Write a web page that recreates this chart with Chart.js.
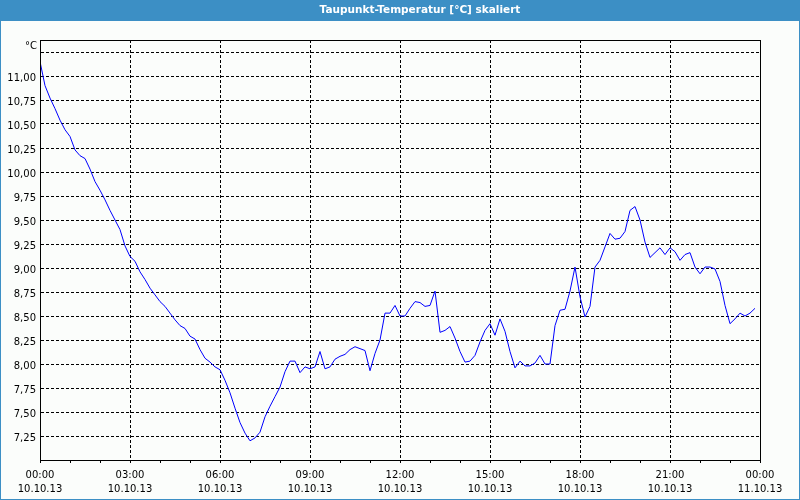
<!DOCTYPE html>
<html>
<head>
<meta charset="utf-8">
<script src="https://cdn.jsdelivr.net/npm/chart.js@4"></script>
<style>
  html, body { margin: 0; padding: 0; background: #ffffff; }
  #wrap { width: 800px; height: 500px; }
</style>
</head>
<body>
<div id="wrap"><canvas id="c" width="800" height="500"></canvas></div>
<script>
// ---- data (minutes since 10.10.13 00:00, dew point °C) ----
const minutes = [
  0, 10, 20, 30, 40, 50, 60, 70, 80, 90, 100, 110,
  120, 130, 140, 150, 160, 170, 180, 190, 200, 210, 220, 230,
  240, 250, 260, 270, 280, 290, 300, 310, 320, 330, 340, 350,
  360, 370, 380, 390, 400, 410, 420, 430, 440, 450, 460, 470,
  480, 490, 500, 510, 520, 530, 540, 550, 560, 570, 580, 590,
  600, 610, 620, 630, 640, 650, 660, 670, 680, 690, 700, 710,
  720, 730, 740, 750, 760, 770, 780, 790, 800, 810, 820, 830,
  840, 850, 860, 870, 880, 890, 900, 910, 920, 930, 940, 950,
  960, 970, 980, 990, 1000, 1010, 1020, 1030, 1040, 1050, 1060, 1070,
  1080, 1090, 1100, 1110, 1120, 1130, 1140, 1150, 1160, 1170, 1180, 1190,
  1200, 1210, 1220, 1230, 1240, 1250, 1260, 1270, 1280, 1290, 1300, 1310,
  1320, 1330, 1340, 1350, 1360, 1370, 1380, 1390, 1400, 1410, 1420, 1430
];
const dewPoint = [
  11.15, 10.90, 10.77, 10.66, 10.54, 10.44, 10.37, 10.23, 10.17, 10.14, 10.03, 9.90,
  9.81, 9.71, 9.60, 9.50, 9.40, 9.23, 9.12, 9.07, 8.96, 8.88, 8.79, 8.72,
  8.65, 8.60, 8.53, 8.46, 8.40, 8.37, 8.29, 8.26, 8.15, 8.06, 8.02, 7.97,
  7.94, 7.83, 7.70, 7.54, 7.39, 7.28, 7.20, 7.23, 7.29, 7.45, 7.56, 7.66,
  7.76, 7.92, 8.03, 8.03, 7.91, 7.97, 7.95, 7.97, 8.13, 7.95, 7.97, 8.05,
  8.08, 8.10, 8.15, 8.18, 8.16, 8.14, 7.93, 8.11, 8.25, 8.53, 8.53, 8.61,
  8.50, 8.50, 8.58, 8.65, 8.64, 8.60, 8.61, 8.76, 8.33, 8.35, 8.39, 8.27,
  8.13, 8.02, 8.03, 8.09, 8.23, 8.35, 8.42, 8.30, 8.47, 8.34, 8.13, 7.96,
  8.03, 7.98, 7.98, 8.01, 8.09, 8.00, 8.00, 8.40, 8.56, 8.57, 8.76, 9.01,
  8.70, 8.49, 8.60, 9.01, 9.08, 9.22, 9.36, 9.30, 9.31, 9.38, 9.60, 9.64,
  9.50, 9.27, 9.11, 9.16, 9.21, 9.14, 9.21, 9.17, 9.08, 9.14, 9.16, 9.01,
  8.94, 9.01, 9.01, 8.99, 8.86, 8.61, 8.42, 8.47, 8.53, 8.50, 8.53, 8.58
];
// x tick labels every 3 hours (minute positions 0,180,...,1440)
const xTickMinutes = [0, 180, 360, 540, 720, 900, 1080, 1260, 1440];
const xTickTimes = ['00:00', '03:00', '06:00', '09:00', '12:00', '15:00', '18:00', '21:00', '00:00'];
const xTickDates = ['10.10.13', '10.10.13', '10.10.13', '10.10.13', '10.10.13', '10.10.13', '10.10.13', '10.10.13', '11.10.13'];
// y tick labels, 7.00 .. 11.25 in 0.25 steps
const yTickValues = [7.00, 7.25, 7.50, 7.75, 8.00, 8.25, 8.50, 8.75, 9.00, 9.25, 9.50, 9.75, 10.00, 10.25, 10.50, 10.75, 11.00, 11.25];
const yTickLabels = ['', '7,25', '7,50', '7,75', '8,00', '8,25', '8,50', '8,75', '9,00', '9,25', '9,50', '9,75', '10,00', '10,25', '10,50', '10,75', '11,00', ''];
const yUnit = '°C';
const chartTitle = 'Taupunkt-Temperatur [°C] skaliert';

const points = minutes.map((m, i) => ({ x: m, y: dewPoint[i] }));

const BLUE_BAR = '#3c8fc5';
const framePlugin = {
  id: 'frame',
  beforeDraw(chart) {
    const ctx = chart.ctx;
    ctx.save();
    ctx.fillStyle = '#fbfdfb';
    ctx.fillRect(0, 0, chart.width, chart.height);
    ctx.fillStyle = BLUE_BAR;
    ctx.fillRect(0, 0, chart.width, 21);
    ctx.strokeStyle = BLUE_BAR;
    ctx.lineWidth = 1;
    ctx.strokeRect(0.5, 0.5, chart.width - 1, chart.height - 1);
    // title
    ctx.fillStyle = '#ffffff';
    ctx.font = 'bold 10.5px "DejaVu Sans"';
    ctx.textAlign = 'center';
    ctx.textBaseline = 'middle';
    ctx.fillText(chartTitle, 420, 10.5);
    // unit label at top of the value axis
    const a = chart.chartArea;
    const yScale = chart.scales.y;
    ctx.fillStyle = '#000000';
    ctx.font = '10px "DejaVu Sans"';
    ctx.textAlign = 'right';
    ctx.fillText(yUnit, a.left - 3, yScale.getPixelForValue(11.25) - 6);
    ctx.restore();
  },
  afterDraw(chart) {
    const a = chart.chartArea;
    const ctx = chart.ctx;
    ctx.save();
    ctx.strokeStyle = '#000000';
    ctx.lineWidth = 1;
    ctx.strokeRect(Math.floor(a.left) + 0.5, Math.floor(a.top) + 0.5,
                   Math.round(a.right - a.left), Math.round(a.bottom - a.top));
    ctx.restore();
  }
};

new Chart(document.getElementById('c'), {
  type: 'line',
  data: {
    datasets: [{
      data: points,
      borderColor: '#0000ff',
      borderWidth: 1,
      pointRadius: 0,
      tension: 0,
      fill: false
    }]
  },
  options: {
    responsive: false,
    animation: false,
    layout: { padding: { left: 0, right: 40, top: 40, bottom: 0 } },
    plugins: {
      legend: { display: false },
      tooltip: { enabled: false },
      title: { display: false }
    },
    scales: {
      x: {
        type: 'linear',
        min: 0,
        max: 1440,
        afterFit(scale) { scale.height = 40; },
        afterBuildTicks(scale) {
          const t = [];
          for (let m = 0; m <= 1440; m += 60) t.push({ value: m });
          scale.ticks = t;
        },
        ticks: {
          autoSkip: false,
          maxRotation: 0,
          padding: 5,
          color: '#000000',
          font: { family: 'DejaVu Sans', size: 10, lineHeight: 1.4 },
          callback(value) {
            const i = xTickMinutes.indexOf(value);
            return i >= 0 ? [xTickTimes[i], xTickDates[i]] : '';
          }
        },
        grid: {
          color(ctx) {
            return ctx.tick && ctx.tick.value % 180 === 0 ? '#000000' : 'rgba(0,0,0,0)';
          },
          tickColor: '#000000',
          tickLength: 3,
          lineWidth: 1
        },
        border: { display: true, color: '#000000', width: 1, dash: [3, 2] }
      },
      y: {
        min: 7,
        max: 11.375,
        afterFit(scale) { scale.width = 40; },
        afterBuildTicks(scale) {
          scale.ticks = yTickValues.map(v => ({ value: v }));
        },
        ticks: {
          padding: 4,
          labelOffset: 2,
          color: '#000000',
          font: { family: 'DejaVu Sans', size: 10 },
          callback(value) {
            const i = yTickValues.findIndex(v => Math.abs(v - value) < 1e-6);
            return i >= 0 ? yTickLabels[i] : '';
          }
        },
        grid: {
          color: '#000000',
          drawTicks: false,
          lineWidth: 1
        },
        border: { display: true, color: '#000000', width: 1, dash: [3, 2] }
      }
    }
  },
  plugins: [framePlugin]
});
</script>
</body>
</html>
